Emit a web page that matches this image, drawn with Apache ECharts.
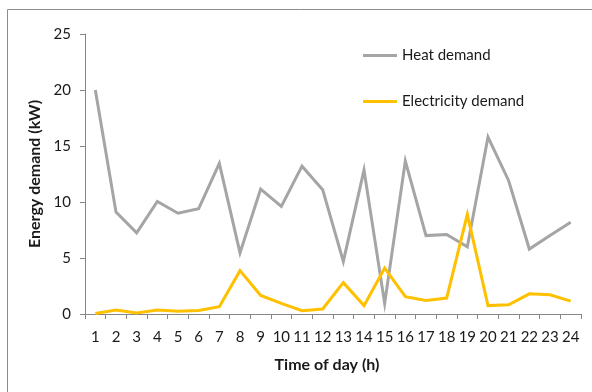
<!DOCTYPE html>
<html>
<head>
<meta charset="utf-8">
<script src="https://cdn.jsdelivr.net/npm/echarts@6/dist/echarts.min.js"></script>
<style>
  html, body { margin: 0; padding: 0; background: #fff; }
  #chart { width: 592px; height: 392px; }
</style>
</head>
<body>
<div id="chart"></div>
<script>
// Hourly energy demand profile over one day
const hours = ['1','2','3','4','5','6','7','8','9','10','11','12','13','14','15','16','17','18','19','20','21','22','23','24'];
const heatDemand = [20.0, 9.1, 7.25, 10.05, 9.0, 9.4, 13.45, 5.45, 11.15, 9.6, 13.2, 11.1, 4.7, 12.85, 0.95, 13.65, 7.0, 7.1, 6.0, 15.8, 11.9, 5.8, 7.0, 8.2];
const electricityDemand = [0.05, 0.35, 0.08, 0.35, 0.25, 0.32, 0.65, 3.87, 1.65, 0.95, 0.3, 0.45, 2.8, 0.75, 4.1, 1.55, 1.2, 1.42, 8.9, 0.75, 0.83, 1.8, 1.72, 1.15];
const yTicks = [0, 5, 10, 15, 20, 25];

const FONT = 'Lato';
const chart = echarts.init(document.getElementById('chart'), null, { renderer: 'canvas' });

chart.setOption({
  animation: false,
  backgroundColor: '#ffffff',
  graphic: [{
    type: 'rect',
    shape: { x: 7.5, y: 9.5, width: 700, height: 500 },
    style: { fill: 'none', stroke: '#8c8c8c', lineWidth: 1 },
    silent: true
  }],
  grid: { left: 85, right: 11, top: 34, bottom: 78, containLabel: false },
  legend: {
    orient: 'vertical',
    left: 363,
    top: 48,
    padding: 0,
    itemWidth: 34,
    itemHeight: 3,
    itemGap: 31,
    icon: 'rect',
    textStyle: { fontFamily: FONT, fontSize: 15, color: '#1a1a1a' },
    data: ['Heat demand', 'Electricity demand']
  },
  xAxis: {
    type: 'category',
    data: hours,
    boundaryGap: true,
    name: 'Time of day (h)',
    nameLocation: 'middle',
    nameGap: 43,
    nameTextStyle: { fontFamily: FONT, fontSize: 16, fontWeight: 'bold', color: '#1a1a1a', padding: [0, 12, 0, 0] },
    axisLine: { lineStyle: { color: '#868686', width: 1 } },
    axisTick: { show: true, inside: false, length: 5, lineStyle: { color: '#868686' } },
    axisLabel: { fontFamily: FONT, fontSize: 15, color: '#1a1a1a', margin: 16, interval: 0 },
    splitLine: { show: false }
  },
  yAxis: {
    type: 'value',
    min: yTicks[0],
    max: yTicks[yTicks.length - 1],
    interval: 5,
    name: 'Energy demand (kW)',
    nameLocation: 'middle',
    nameRotate: 90,
    nameGap: 32,
    nameTextStyle: { fontFamily: FONT, fontSize: 16, fontWeight: 'bold', color: '#1a1a1a' },
    axisLine: { show: true, lineStyle: { color: '#868686', width: 1 } },
    axisTick: { show: true, inside: false, length: 5, lineStyle: { color: '#868686' } },
    axisLabel: { fontFamily: FONT, fontSize: 15, color: '#1a1a1a', margin: 14 },
    splitLine: { show: false }
  },
  series: [
    {
      name: 'Heat demand',
      type: 'line',
      data: heatDemand,
      showSymbol: false,
      symbol: 'none',
      color: '#a5a5a5',
      lineStyle: { color: '#a5a5a5', width: 3, join: 'miter' }
    },
    {
      name: 'Electricity demand',
      type: 'line',
      data: electricityDemand,
      showSymbol: false,
      symbol: 'none',
      color: '#ffc000',
      lineStyle: { color: '#ffc000', width: 3, join: 'miter' }
    }
  ]
});
</script>
</body>
</html>
